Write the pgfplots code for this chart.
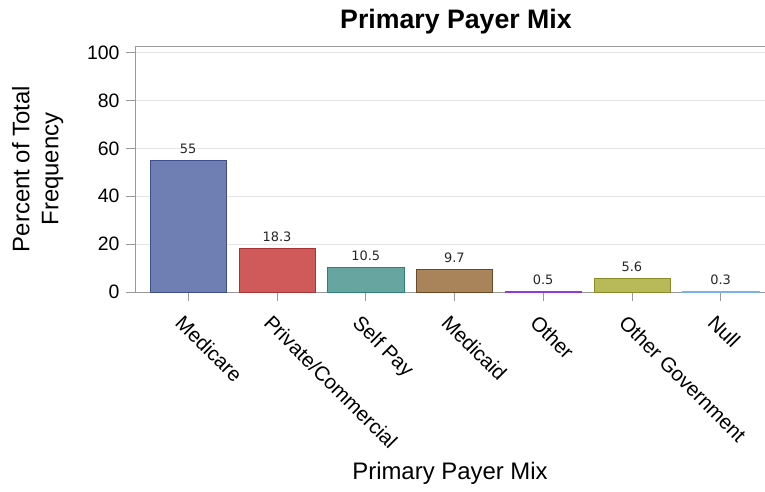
\documentclass[border=0pt]{standalone}
\usepackage{pgfplots}
\pgfplotsset{compat=1.18}
\usepackage{fontspec}
\setmainfont{Liberation Sans}
\newfontfamily\labfont{DejaVu Sans}

\definecolor{cMed}{HTML}{6F7EB3}\definecolor{eMed}{HTML}{3D4E8F}
\definecolor{cPriv}{HTML}{D05A5A}\definecolor{ePriv}{HTML}{A83535}
\definecolor{cSelf}{HTML}{66A5A0}\definecolor{eSelf}{HTML}{2E7F77}
\definecolor{cMcd}{HTML}{A9845A}\definecolor{eMcd}{HTML}{6B4A25}
\definecolor{cOth}{HTML}{A855E8}\definecolor{eOth}{HTML}{9038D8}
\definecolor{cGov}{HTML}{B8BA5A}\definecolor{eGov}{HTML}{8A8C2A}
\definecolor{cNull}{HTML}{9AC8F0}\definecolor{eNull}{HTML}{78B2EA}

\begin{document}
\begin{tikzpicture}
\begin{axis}[
    name=ax,
    scale only axis,
    width=630bp, height=246bp,
    ybar, bar width=0.86, bar shift=0pt,
    xmin=-0.6, xmax=6.5,
    ymin=0, ymax=102.8,
    ytick={0,20,...,100},
    xtick={0,...,6},
    xticklabels={Medicare,Private/Commercial,Self Pay,Medicaid,Other,Other Government,Null},
    x tick label style={rotate=-45, anchor=north west, font=\fontsize{20.5}{23}\selectfont, xshift=3bp, yshift=-8bp},
    y tick label style={font=\fontsize{19.5}{22}\selectfont, xshift=-3bp},
    /pgf/number format/assume math mode=true,
    axis lines=left,
    axis line style={draw=gray!80, line width=0.8pt},
    axis line style={-},
    tick align=outside,
    major tick length=9bp,
    tick style={draw=gray!80, line width=0.6pt},
    ymajorgrids, grid style={draw=gray!20, line width=0.6pt},
    title={\bfseries Primary Payer Mix},
    title style={font=\fontsize{26.8}{30}\selectfont, yshift=2bp, xshift=6bp},
    xlabel={Primary Payer Mix},
    xlabel style={font=\fontsize{24}{28}\selectfont, yshift=-4bp},
    ylabel={Percent of Total\\Frequency},
    ylabel style={align=center, font=\fontsize{24}{29}\selectfont, yshift=17bp},
    nodes near coords,
    every node near coord/.append style={font=\labfont\fontsize{13}{15}\selectfont, color=black!85, yshift=3bp},
    point meta=explicit symbolic,
]
\addplot[fill=cMed, draw=eMed] coordinates {(0,55) [55]};
\addplot[fill=cPriv, draw=ePriv] coordinates {(1,18.3) [18.3]};
\addplot[fill=cSelf, draw=eSelf] coordinates {(2,10.5) [10.5]};
\addplot[fill=cMcd, draw=eMcd] coordinates {(3,9.7) [9.7]};
\addplot[fill=cOth, draw=eOth] coordinates {(4,0.5) [0.5]};
\addplot[fill=cGov, draw=eGov] coordinates {(5,5.6) [5.6]};
\addplot[fill=cNull, draw=eNull] coordinates {(6,0.3) [0.3]};
\draw[gray!80, line width=0.8pt] (rel axis cs:0,1) -- (rel axis cs:1,1);
\end{axis}
\pgfresetboundingbox
\path ([xshift=-135bp,yshift=-199bp]ax.south west) rectangle ([yshift=46bp]ax.north east);
\end{tikzpicture}
\end{document}
